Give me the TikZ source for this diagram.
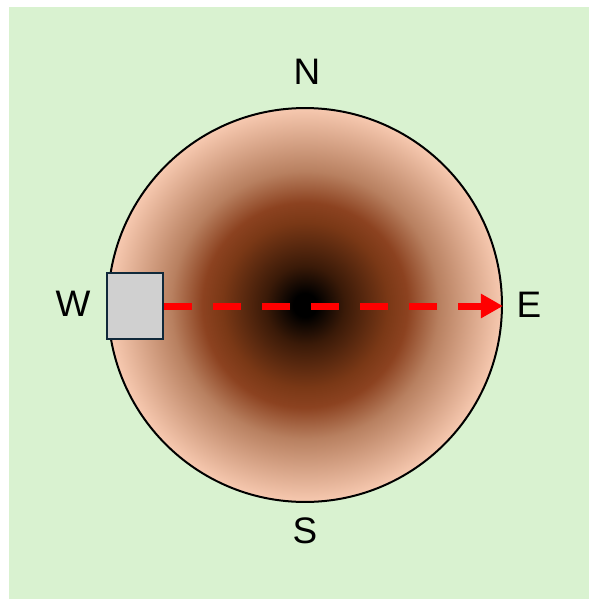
\documentclass[tikz,border=0pt]{standalone}
\usepackage{fontspec}
\setmainfont{Liberation Sans}
\usetikzlibrary{arrows.meta, positioning}
\definecolor{fieldgreen}{RGB}{217,242,208}
\definecolor{probegray}{RGB}{208,208,208}
\definecolor{probeedge}{RGB}{16,41,58}
\definecolor{flowred}{RGB}{255,0,0}
\pgfdeclareradialshading{soil}{\pgfpoint{0bp}{0bp}}{%
  color(0bp)=(black);
  color(1.5bp)=(black);
  color(5bp)=(rgb,255:red,58;green,26;blue,8);
  color(10.5bp)=(rgb,255:red,122;green,56;blue,22);
  color(13bp)=(rgb,255:red,140;green,66;blue,32);
  color(17bp)=(rgb,255:red,184;green,128;blue,96);
  color(25bp)=(rgb,255:red,247;green,201;blue,176);
  color(50bp)=(rgb,255:red,247;green,201;blue,176)}
\tikzset{
  compass/.style={font=\fontsize{21}{25}\selectfont},
  probe/.style={draw=probeedge, fill=probegray, line width=0.05cm,
    minimum width=1.12cm, minimum height=1.32cm, inner sep=0},
  flow/.style={flowred, line width=0.14cm, dash pattern=on 0.56cm off 0.42cm,
    -{Triangle[length=0.44cm,width=0.46cm]}}
}

\begin{document}
\begin{tikzpicture}[x=0.02cm, y=-0.02cm]
    \useasboundingbox (0,0) rectangle (589,599);
    \fill[fieldgreen] (9,7) rectangle (589,599);

    % soil disk
    \node[circle, draw=black, line width=0.04cm, shading=soil,
      minimum size=7.88cm, inner sep=0] (disk) at (305,305) {};

    \node[compass] (north) at (307,72) {N};
    \node[compass] (south) at (305,531) {S};
    \node[compass] (west) at (73,304) {W};
    \node[compass] (east) at (529,305) {E};

    \node[probe] (sensor) at (135,306) {};
    \draw[flow] (sensor.east) -- (disk.east |- sensor.east);
\end{tikzpicture}
\end{document}
